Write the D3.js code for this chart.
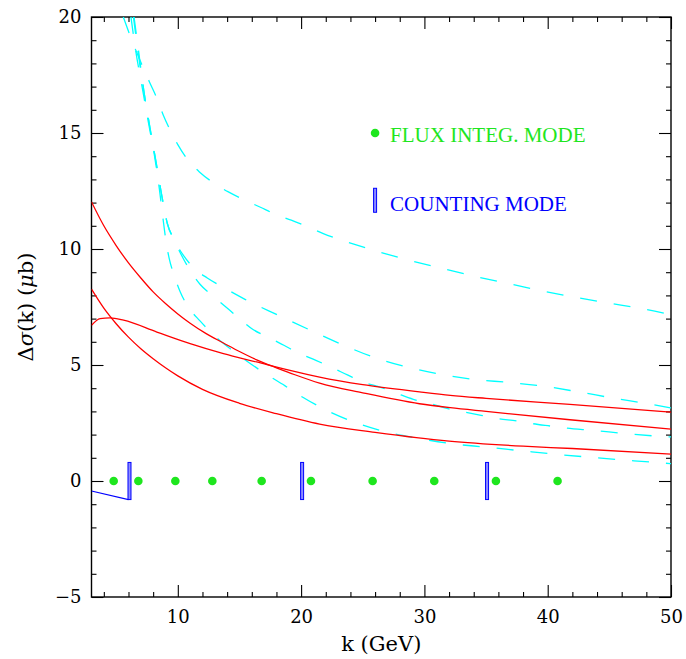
<html><head>
<title>Delta sigma vs k</title>
<script src="https://d3js.org/d3.v7.min.js"></script>
<style>
  body { margin: 0; background: #fff; }
</style>
</head>
<body>
<div id="container" style="width: 686px; height: 659px;"></div>

<script>
// DATA
// k (GeV) of the flux integration points, all at delta sigma = 0
const fluxK = [4.8, 6.8, 9.8, 12.8, 16.8, 20.8, 25.8, 30.8, 35.8, 40.8];
// counting mode bins: k position and the error bar range
const countK = [6, 20, 35];
const countLow = [-0.8, -0.8, -0.8];
const countHigh = [0.8, 0.8, 0.8];
const countEdge = [[3, -0.43], [6, -0.8]];

// solid red curves, [k, value]
const redA = [[3,12.03],[4,11.0],[5,10.15],[6,9.4],[7,8.75],[8,8.15],[9,7.65],[10,7.2],[11,6.8],
  [12.3,6.35],[13.7,5.95],[15,5.58],[16.4,5.22],[18,4.88],[19.5,4.58],[21.5,4.22],[25,3.8],
  [29.6,3.33],[32.1,3.16],[35,3.0],[41.8,2.64],[50,2.24]];
const redB = [[3,6.71],[3.7,7.0],[4.5,7.03],[5.6,6.93],[8.3,6.42],[11,5.92],[13.7,5.49],
  [16.4,5.13],[19.1,4.77],[21.5,4.48],[25,4.15],[29.6,3.84],[32.1,3.69],[35,3.56],[41.8,3.3],[50,2.97]];
const redC = [[3,8.27],[4,7.45],[5,6.78],[6,6.2],[7,5.7],[8,5.27],[9,4.88],[10,4.53],[12,3.95],
  [15,3.35],[18,2.9],[21.5,2.45],[26,2.1],[32,1.72],[38,1.5],[42,1.4],[50,1.16]];

// dashed cyan curves, [k, value]
const cyanD = [[5.58,20],[6.07,19.28],[7.7,17.2],[8.3,16.5],[8.8,15.8],[9.4,15.1],[10,14.5],
  [10.8,13.85],[11.8,13.3],[12.9,12.85],[14.1,12.46],[15.3,12.14],[16.7,11.8],[17.9,11.5],
  [19.2,11.24],[20.6,10.95],[21.8,10.66],[23.2,10.4],[25.9,9.94],[28.6,9.54],[31.3,9.18],
  [34.1,8.82],[36.8,8.51],[39.6,8.19],[42.4,7.9],[45.2,7.65],[48,7.39],[50,7.17]];
const cyanE = [[6.45,20],[6.85,18.4],[7.25,16.8],[7.75,15.2],[8.25,13.7],[8.7,12.3],[9.15,11.1],
  [9.7,10.4],[10.5,9.69],[11.26,9.2],[12.39,8.75],[13.64,8.36],[15.45,7.83],[18,7.18],
  [20.55,6.55],[23.15,5.92],[25.7,5.37],[28.45,4.93],[31.2,4.61],[34,4.38],[36.8,4.25],
  [39.5,4.1],[42.5,3.84],[45.25,3.58],[48,3.34],[50,3.15]];
const cyanF = [[6.4,20],[6.8,18.4],[7.25,16.8],[7.75,15.2],[8.25,13.7],[8.7,12.3],[9.15,11.1],
  [9.7,10.4],[10.3,9.73],[11,9.08],[11.8,8.48],[12.9,7.96],[13.9,7.5],[15,7.0],[16.1,6.53],
  [17.4,6.18],[18.6,5.85],[19.9,5.49],[21.2,5.2],[22.5,4.89],[23.8,4.56],[25,4.27],[26.4,4.05],
  [27.7,3.79],[29.1,3.52],[30.5,3.34],[31.9,3.12],[33.3,2.97],[34.6,2.83],[36,2.69],[37.5,2.59],
  [38.8,2.47],[40.2,2.37],[41.5,2.28],[43.7,2.18],[46.4,2.04],[49.3,1.92],[50,1.9]];
const cyanG = [[6.2,20],[6.6,18.5],[7.1,17.0],[7.6,15.5],[8.1,14.05],[8.5,12.6],[8.85,11.1],
  [9.05,10.3],[9.3,9.6],[9.7,8.87],[10.2,8.15],[10.85,7.5],[11.8,6.9],[13.2,6.15],[14.45,5.62],
  [16.65,4.78],[18.7,4.1],[20.1,3.62],[21.8,3.12],[24,2.6],[26.7,2.14],[29.5,1.84],[32.3,1.6],
  [35,1.46],[37.9,1.3],[40.7,1.15],[44,1.0],[47,0.87],[50,0.75]];

const xMajor = [10, 20, 30, 40, 50];
const yMajor = [-5, 0, 5, 10, 15, 20];
const legendLabels = ["FLUX INTEG. MODE", "COUNTING MODE"];

// LAYOUT
const width = 686, height = 659;
const margin = { top: 17, right: 15, bottom: 62, left: 91.5 };
const chartWidth = width - margin.left - margin.right;
const chartHeight = height - margin.top - margin.bottom;
const serif = "'DejaVu Serif', serif";
const green = "#1ee61e", blue = "#0000ff";

const svg = d3.select("#container").append("svg")
              .attr("width", width)
              .attr("height", height);
const plot = svg.append("g").attr("transform", "translate(" + margin.left + "," + margin.top + ")");

const xScale = d3.scaleLinear().domain([3, 50]).range([0, chartWidth]);
const yScale = d3.scaleLinear().domain([-5, 20]).range([chartHeight, 0]);

svg.append("defs").append("clipPath").attr("id", "clip")
   .append("rect").attr("width", chartWidth).attr("height", chartHeight);

// AXES: ticks inward on all four sides
const xMinor = d3.range(4, 50, 2).filter(d => d % 10 != 0);
const yMinor = d3.range(-5, 21, 1).filter(d => d % 5 != 0);

function styleAxis(g) {
  g.select(".domain").remove();
  g.selectAll("line").attr("stroke", "#000").attr("stroke-width", 1.1);
  g.selectAll("text").attr("fill", "#000").attr("font-family", serif).attr("font-size", 18);
}

plot.append("g").attr("transform", "translate(0," + chartHeight + ")")
    .call(d3.axisBottom(xScale).tickValues(xMajor).tickSize(-12).tickPadding(13).tickFormat(d3.format("d")))
    .call(styleAxis);
plot.append("g").attr("transform", "translate(0," + chartHeight + ")")
    .call(d3.axisBottom(xScale).tickValues(xMinor).tickSize(-5).tickFormat(""))
    .call(styleAxis);
plot.append("g")
    .call(d3.axisTop(xScale).tickValues(xMajor).tickSize(-12).tickFormat(""))
    .call(styleAxis);
plot.append("g")
    .call(d3.axisTop(xScale).tickValues(xMinor).tickSize(-5).tickFormat(""))
    .call(styleAxis);

plot.append("g")
    .call(d3.axisLeft(yScale).tickValues(yMajor).tickSize(-12).tickPadding(10)
            .tickFormat(d => d < 0 ? "\u2212" + Math.abs(d) : d))
    .call(styleAxis);
plot.append("g")
    .call(d3.axisLeft(yScale).tickValues(yMinor).tickSize(-5).tickFormat(""))
    .call(styleAxis);
plot.append("g").attr("transform", "translate(" + chartWidth + ",0)")
    .call(d3.axisRight(yScale).tickValues(yMajor).tickSize(-12).tickFormat(""))
    .call(styleAxis);
plot.append("g").attr("transform", "translate(" + chartWidth + ",0)")
    .call(d3.axisRight(yScale).tickValues(yMinor).tickSize(-5).tickFormat(""))
    .call(styleAxis);

plot.append("rect")
    .attr("width", chartWidth).attr("height", chartHeight)
    .attr("fill", "none").attr("stroke", "#000").attr("stroke-width", 1.4);

// axis titles
svg.append("text")
   .attr("x", margin.left + chartWidth / 2).attr("y", 651)
   .attr("text-anchor", "middle")
   .attr("font-family", serif).attr("font-size", 21)
   .text("k (GeV)");

const yTitle = svg.append("text")
   .attr("transform", "translate(33," + (margin.top + chartHeight / 2) + ") rotate(-90)")
   .attr("text-anchor", "middle")
   .attr("font-family", serif).attr("font-size", 21);
yTitle.append("tspan").text("\u0394");
yTitle.append("tspan").attr("font-style", "italic").text("\u03c3");
yTitle.append("tspan").text("(k) (");
yTitle.append("tspan").attr("font-style", "italic").text("\u03bc");
yTitle.append("tspan").text("b)");

// CURVES
const area = plot.append("g").attr("clip-path", "url(#clip)");
const line = d3.line()
               .x(d => xScale(d[0]))
               .y(d => yScale(d[1]))
               .curve(d3.curveMonotoneX);

[cyanD, cyanE, cyanF, cyanG].forEach(s => {
  area.append("path").datum(s)
      .attr("d", line)
      .attr("fill", "none")
      .attr("stroke", "#00ffff")
      .attr("stroke-width", 1.3)
      .attr("stroke-dasharray", "17,17");
});

[redA, redB, redC].forEach(s => {
  area.append("path").datum(s)
      .attr("d", line)
      .attr("fill", "none")
      .attr("stroke", "#ff0000")
      .attr("stroke-width", 1.3);
});

// counting mode edge and bars
area.append("path").datum(countEdge)
    .attr("d", d3.line().x(d => xScale(d[0])).y(d => yScale(d[1])))
    .attr("fill", "none").attr("stroke", blue).attr("stroke-width", 1.2);

const barW = 3;
area.selectAll("rect.count").data(countK)
    .join("rect").attr("class", "count")
    .attr("x", d => xScale(d) - 0.5)
    .attr("width", barW)
    .attr("y", (d, i) => yScale(countHigh[i]))
    .attr("height", (d, i) => yScale(countLow[i]) - yScale(countHigh[i]))
    .attr("fill", "#8c8cff")
    .attr("stroke", blue)
    .attr("stroke-width", 1);

// flux integration points
area.selectAll("circle.flux").data(fluxK)
    .join("circle").attr("class", "flux")
    .attr("cx", d => xScale(d))
    .attr("cy", yScale(0))
    .attr("r", 4.3)
    .attr("fill", green);

// LEGEND
const lx = xScale(26), ly1 = yScale(15), ly2 = yScale(12.1);
plot.append("circle").attr("cx", lx).attr("cy", ly1).attr("r", 4.3).attr("fill", green);
plot.append("text").attr("x", lx + 15).attr("y", ly1 + 8.5)
    .attr("font-family", "'Liberation Serif', serif").attr("font-size", 21)
    .attr("fill", green).text(legendLabels[0]);
plot.append("rect").attr("x", lx - 1.5).attr("width", barW)
    .attr("y", ly2 - 12).attr("height", 24)
    .attr("fill", "#8c8cff").attr("stroke", blue).attr("stroke-width", 1);
plot.append("text").attr("x", lx + 15).attr("y", ly2 + 11)
    .attr("font-family", "'Liberation Serif', serif").attr("font-size", 21)
    .attr("fill", blue).text(legendLabels[1]);
</script>
</body>
</html>
